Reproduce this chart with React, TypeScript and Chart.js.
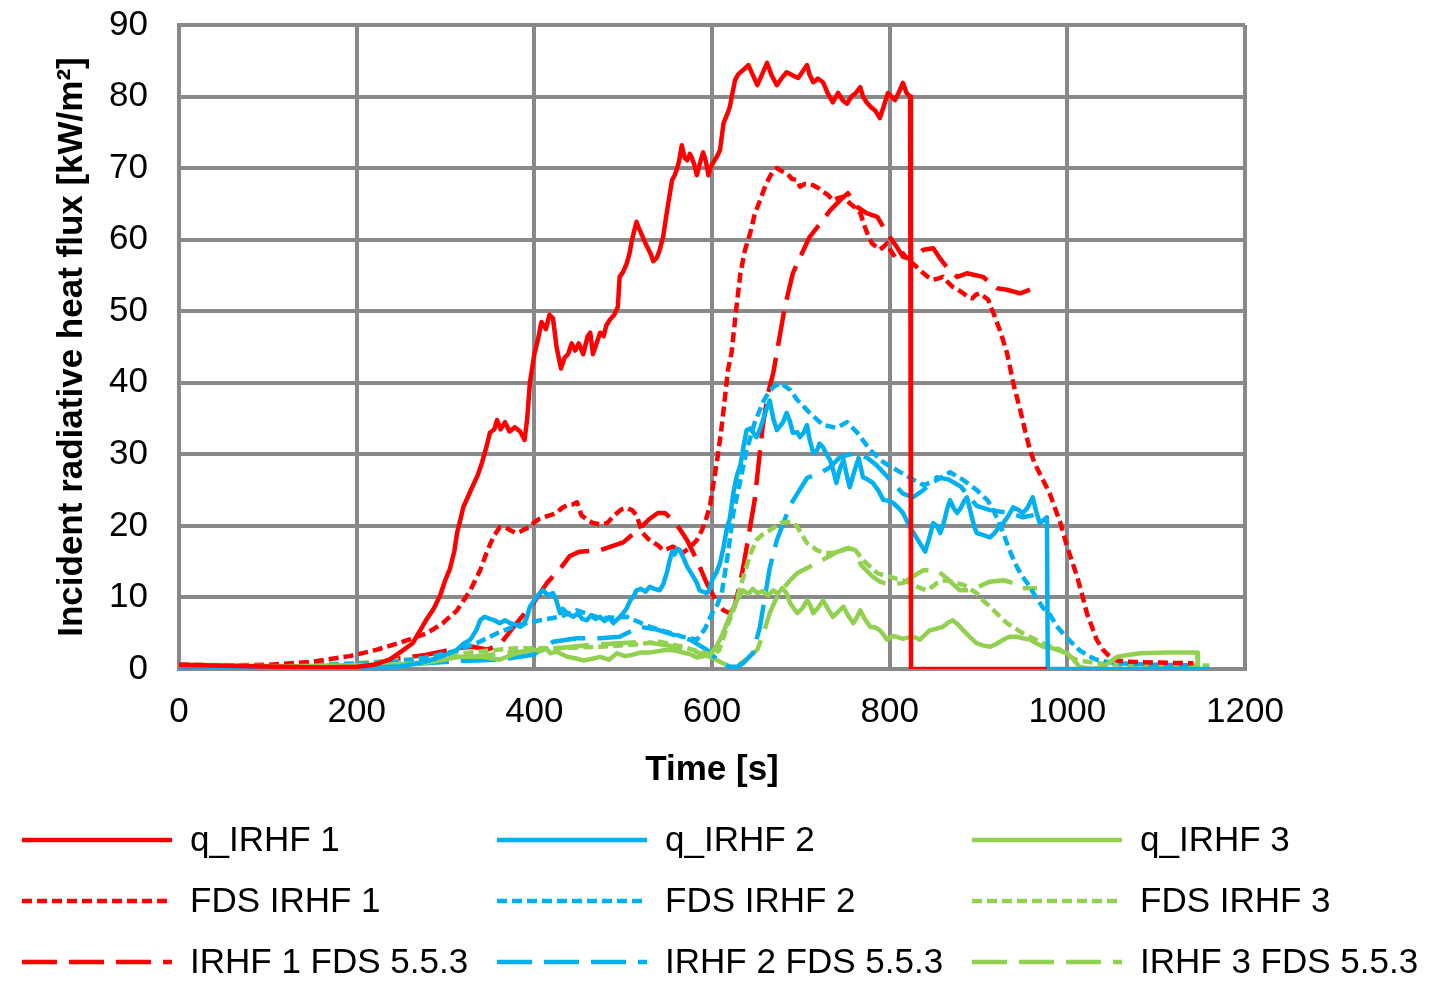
import React, { useEffect, useRef } from 'react';
import { Chart, registerables } from 'chart.js';

Chart.register(...registerables);

const xTickValues = [0, 200, 400, 600, 800, 1000, 1200];
const yTickValues = [0, 10, 20, 30, 40, 50, 60, 70, 80, 90];

const seriesNames = [
  'q_IRHF 1', 'q_IRHF 2', 'q_IRHF 3',
  'FDS IRHF 1', 'FDS IRHF 2', 'FDS IRHF 3',
  'IRHF 1 FDS 5.5.3', 'IRHF 2 FDS 5.5.3', 'IRHF 3 FDS 5.5.3',
];

// q_IRHF 1 (measured)
const q1T = [0,40,80,120,160,200,220,237,252,263,272,279,287,294,300,305,310,313,317,320,325,330,336,341,346,350,355,358,362,367,372,378,384,389,392,395,400,404,408,413,417,421,425,430,434,438,442,446,450,455,460,463,466,470,474,478,481,485,490,494,496,500,504,507,510,513,515,518,522,525,527,531,534,538,541,545,549,552,555,558,560,563,566,569,572,575,577,580,583,586,590,593,596,598,601,605,609,613,617,620,623,626,629,632,636,641,646,651,656,662,667,673,678,684,690,697,702,707,710,714,719,725,730,736,742,747,752,757,762,767,770,774,779,784,789,793,798,802,806,810,815,819,823,824,977];
const q1V = [0.6,0.5,0.4,0.3,0.2,0.3,0.6,1.3,2.6,3.6,5.5,7,8.5,10.3,12.5,14,16.5,19,21,22.6,24,25.4,27,28.8,31,33,33.5,34.8,33.5,34.5,33.2,33.8,33.2,32,35,40,44,46,48.5,47.5,49.5,49,45,42,43.5,44,45.5,44.5,45.5,44,46.5,47,44,45.5,47,46.5,48,48.8,49.5,50.6,54.8,55.5,56.7,58,60,61.5,62.5,61.5,60.4,59.5,59,58,57,57.5,58.5,60.4,63.7,66,68.3,69,69.7,71,73.2,71.5,71.1,72,71.5,70.5,69,70.5,72.2,71,69,70,70.7,71.5,72.5,76.3,77.5,78.5,80.5,82.3,83,83.4,83.8,84.4,83,81.6,83,84.7,83,81.6,82.5,83.4,83,82.6,83.5,84.4,83,82,82.5,82,80.5,79.2,80.5,79.5,79,80,80.5,81.3,80,79.2,78.5,78,77,78.5,80.5,80,79.5,80.5,81.9,80.5,80,0,0];

// q_IRHF 2
const q2T = [0,60,120,180,220,250,270,290,305,313,320,328,335,339,344,350,355,361,367,373,379,384,387,391,395,400,406,410,415,421,425,429,432,437,444,449,454,459,464,469,474,479,484,489,494,500,504,508,512,515,520,525,530,535,541,545,549,552,555,558,561,564,568,572,576,579,583,586,590,594,597,600,605,609,613,617,620,624,628,632,636,639,643,646,650,654,658,662,665,669,673,677,680,684,688,691,696,699,703,707,710,714,718,721,725,729,733,737,740,744,748,751,755,760,765,770,775,781,787,793,799,804,810,815,819,823,828,834,837,840,845,849,853,857,861,865,868,872,876,880,884,887,891,895,898,903,908,913,918,923,928,934,939,944,950,955,961,965,969,973,977,978,1160];
const q2V = [0.4,0.3,0.2,0.1,0.2,0.4,0.8,1.5,2.2,2.7,3.5,4.1,5.5,6.8,7.3,7,6.8,6.4,6.8,6.4,6.2,5.9,6.1,7,8.7,9.6,10.6,11,10.3,10.6,9.5,7.8,8.4,7.8,7.3,7.8,7,6.8,7.5,7,7.3,6.7,7.2,6.4,7,7.8,8.5,9.6,10.2,11,11.2,10.8,11.5,11.2,11,11.8,13.4,15,16.4,16,16.8,16.6,15.5,14.3,13.5,12.9,12,11,10.8,10.6,11,12.4,13.5,14.8,17,19.9,21,24.6,27,28.5,31.5,33.4,33.6,33.1,32.4,33.5,35,36.6,37.5,35,33.4,34,34.5,35.8,34.5,33,33.1,32.4,33,34.1,32,30.2,30.5,31.5,31,30,29.2,27.5,26,28,29.2,27.5,25.4,27.5,29.5,26.8,26.5,26,25,23.6,23.5,23.2,22.5,21.8,20.8,19.8,18.8,17.6,17,16.4,18.5,20.4,20,19,20.5,22.5,23.6,22.5,21.8,22.5,23.5,24,22,20,19,18.8,18.6,18.4,19,19.8,20.4,21.5,22.6,22.3,21.8,22.5,24,22,20.4,20.8,21.2,0,0];

// q_IRHF 3
const q3T = [0,60,120,180,230,275,297,316,342,361,380,399,406,414,418,425,437,446,455,464,474,484,493,502,511,520,530,540,549,558,567,575,583,591,598,604,609,614,618,623,628,635,641,646,651,657,663,669,674,679,684,688,692,696,702,707,711,714,719,725,730,736,742,748,753,759,763,767,772,778,784,789,793,797,803,808,815,823,829,834,840,845,852,860,866,871,877,883,890,898,905,913,920,928,935,943,950,958,965,973,981,988,1000,1007,1014,1029,1040,1048,1056,1070,1082,1110,1146,1147,1149];
const q3V = [0.6,0.5,0.4,0.5,0.6,0.8,1.3,1.7,1.7,1.3,2.2,2.7,2.5,2.8,2.2,2.4,1.7,1.5,1.2,1.4,1.7,1.3,2.2,1.8,2,2.3,2.3,2.5,2.7,2.6,2.3,2.1,1.6,1.8,2,3,4.1,5.5,6.8,8.3,9.6,11,10.5,11.2,10.6,10.9,10.3,11,10.5,11.3,10.6,9.2,8.5,7.8,8.5,9.6,8.8,7.8,8.5,9.6,8.5,7.3,8,8.7,7.5,6.4,7.2,8.2,7,5.9,5.8,5.4,4.8,4.1,4.6,4.5,4.2,4.5,4.4,4.1,4.8,5.4,5.6,5.9,6.5,6.8,6.2,5.4,4.5,3.6,3.3,3.1,3.5,4.1,4.5,4.5,4.3,4.1,3.6,3.1,3,2.7,2.2,1.3,0.3,0,0.3,1,1.7,2,2.2,2.3,2.3,0.3,0.3];

// FDS IRHF 1
const f1T = [0,50,100,150,192,223,249,279,297,313,328,339,347,354,361,367,373,379,384,390,395,400,406,410,418,425,431,437,443,448,453,460,466,474,482,488,493,498,504,510,515,519,522,528,534,540,545,550,556,561,567,575,583,589,594,598,601,604,607,610,613,618,622,627,632,637,643,648,654,660,665,669,673,678,684,690,696,699,705,714,720,725,730,736,742,748,755,761,767,772,776,780,785,789,793,797,801,806,811,815,820,826,832,838,843,849,855,860,866,871,877,883,888,893,897,902,907,911,914,917,925,932,940,947,953,958,963,967,973,980,986,992,1000,1006,1011,1017,1022,1028,1033,1040,1048,1056,1067,1100,1142];
const f1V = [0.6,0.5,0.6,1,1.8,2.7,3.7,5,6.4,8.2,11,13.8,16.5,18.5,19.8,19.8,19.4,19,19.2,19.6,19.8,20.5,21,21.2,21.5,21.8,22.5,22.9,23,23.3,21.5,20.8,20.4,20.2,20.4,21.2,21.8,22.3,22.5,22.2,21.5,20,19,18.2,17.7,17.2,16.6,16.8,17.1,16.7,16.2,17,18,19.5,21.2,23,25.4,27.8,30.2,33,36.2,41.8,44.2,50,55.3,58.5,60.9,63.5,65.5,67.5,68.8,69.6,70,69.6,69.3,68.5,68.3,67.4,67.8,67.6,67.2,66.7,66.3,65.5,65.8,66,65.1,64.5,63.7,61.8,60.5,59.5,59,58.6,59,59.5,58.5,57.6,58,58.1,57.3,56.7,56,55.3,54.8,54.4,54.6,54.8,54,53.4,53,52.5,52,51.8,52.3,52.5,52,51.6,50.5,49.7,47,44.2,39.5,36.2,33,30.6,28.8,27.8,26.3,24.6,22.5,20.5,17,14.8,12.9,10.2,7.8,5.8,4.1,2.7,1.7,1.2,1,0.9,0.8];

// FDS IRHF 2
const f2T = [0,100,200,250,280,313,335,358,380,406,429,448,474,504,530,549,567,583,592,601,606,611,618,624,632,639,648,657,663,669,677,688,696,710,725,740,752,763,778,793,808,823,838,853,868,883,898,910,916,921,927,932,937,943,949,955,961,967,973,981,988,995,1004,1014,1024,1033,1045,1056,1100,1141];
const f2V = [0.5,0.4,0.7,1.1,1.6,2.6,3.6,5,6.1,6.8,7.3,8.2,7.1,7.3,5.9,5.2,4.5,4.1,5.6,8,9,10.6,16.2,21.8,26.4,30.6,34.4,37.2,38.5,39.4,40,39,37.6,35.8,34.1,33.7,34.5,33.1,30.6,28.9,27.8,26.7,25.7,26.4,27.5,26.4,25,23.6,22.5,21,19.3,17.6,16,14.3,13,12,10.8,9.6,8.5,7.5,6,5,3.8,2.6,1.8,1.3,1,0.8,0.6,0.5];

// FDS IRHF 3
const f3T = [0,100,200,275,320,350,380,418,474,511,541,567,586,601,608,617,625,632,638,643,650,657,664,670,677,684,690,696,702,707,714,718,725,733,740,748,753,758,764,770,778,786,793,800,808,815,823,831,837,842,848,853,859,864,870,876,882,887,893,898,905,913,922,932,941,950,961,973,983,992,1000,1010,1022,1037,1060,1100,1160];
const f3V = [0.6,0.5,0.8,1.5,2.2,2.6,2.9,2.9,3.1,3.4,3.8,3.1,2.4,2,2.6,5.9,8.5,11.5,14,16,18,18.8,19.3,19.8,20.4,20.5,20.6,19.9,18.6,17.6,17,16.6,16.3,16.2,16.3,16.6,16.9,17.1,16.2,15.2,14.3,13.4,13.1,12.9,12.6,12.4,12,11.5,11.2,11,11.5,12,12.3,12.4,12.2,12,11.8,11.5,11,10.6,9.6,8.7,7.6,6.4,5.7,5,4.3,3.6,3.1,2.7,1.9,1.3,1,0.8,0.6,0.5,0.5];

// IRHF 1 FDS 5.5.3
const m1T = [0,60,120,160,207,237,279,313,331,347,361,380,399,414,429,440,451,474,500,519,530,539,547,556,564,572,583,594,606,613,620,625,629,634,639,648,657,663,669,673,682,691,696,710,722,733,744,753,763,774,786,797,808,815,827,838,849,856,864,876,887,905,921,932,947,966];
const m1V = [0.4,0.3,0.1,0,0.1,1.3,2,2.9,3.1,2.7,3.4,6.4,9.2,12,14,15.8,16.4,16.6,17.7,19.7,21,21.8,21.8,20.8,19.5,18,15.2,12,9.2,8.2,7.8,8.6,10.6,13.5,17,23.6,33.8,38.5,41.4,44.2,50.6,55.3,56.7,60.4,62.3,64.1,65.5,66.5,64.6,63.7,63.2,60.9,59,57.6,57.2,58.6,58.8,57.5,56.2,54.8,55.3,54.8,53.2,53,52.5,53.4];

// IRHF 2 FDS 5.5.3
const m2T = [0,100,200,250,313,361,399,421,448,474,496,519,538,556,575,594,606,620,628,635,646,654,665,673,688,707,722,733,744,755,765,775,785,795,805,815,826,838,853,866,880,898,913,935,950,962];
const m2V = [0.3,0.2,0.3,0.6,1.1,1.3,2,3.8,4.3,4.3,4.5,5.9,5.5,4.8,4.1,2.7,1.3,0.3,0.3,0.8,2.2,5.9,14.1,18,22.9,26.7,27.4,28.2,29.6,30,30,29.5,28.5,27.2,25.8,24.5,24,25,26.8,26.5,25.5,22.8,22.2,21.8,21.2,21.5];

// IRHF 3 FDS 5.5.3
const m3T = [0,100,200,260,300,350,400,466,522,550,580,600,612,620,630,640,651,658,665,671,677,688,696,710,718,740,750,758,768,780,789,800,815,827,838,853,866,879,894,905,913,928,940,947,966];
const m3V = [0.4,0.3,0.5,0.8,1.2,2,2.6,3.4,3.8,3.3,2.5,1.6,0.8,0.4,0.6,1.5,2.7,5,7.8,9.5,10.8,12.4,13.4,14.3,14.8,16.3,16.8,16.8,14.5,13,12.2,11.8,12,13,13.8,13.8,12.5,11,11,11.8,12.2,12.4,12,11.3,11.3];

const seriesTimes = [q1T, q2T, q3T, f1T, f2T, f3T, m1T, m2T, m3T];
const seriesValues = [q1V, q2V, q3V, f1V, f2V, f3V, m1V, m2V, m3V];

const RED = '#FF0000';
const BLUE = '#00B0F0';
const GREEN = '#92D050';
const seriesColors = [RED, BLUE, GREEN, RED, BLUE, GREEN, RED, BLUE, GREEN];
const SOLID: number[] = [];
const DOT = [10, 5];
const LONG = [35, 12];
const seriesDashes = [SOLID, SOLID, SOLID, DOT, DOT, DOT, LONG, LONG, LONG];

const FONT = '"Liberation Sans", Arial, sans-serif';
const GRID = '#898989';

const legendPlugin = {
  id: 'customLegend',
  afterDraw(chart: any) {
    const ctx = chart.ctx as CanvasRenderingContext2D;
    const colX = [22, 497, 972];
    const rowY = [840, 901, 962];
    ctx.save();
    seriesNames.forEach((name, i) => {
      const c = i % 3;
      const r = Math.floor(i / 3);
      const x0 = colX[c];
      const y = rowY[r];
      ctx.beginPath();
      ctx.setLineDash(seriesDashes[i]);
      ctx.lineDashOffset = 0;
      ctx.lineCap = 'butt';
      ctx.strokeStyle = seriesColors[i];
      ctx.lineWidth = 4.5;
      ctx.moveTo(x0, y);
      ctx.lineTo(x0 + 150, y);
      ctx.stroke();
      ctx.setLineDash([]);
      ctx.fillStyle = '#000';
      ctx.font = `35px ${FONT}`;
      ctx.textBaseline = 'middle';
      ctx.textAlign = 'left';
      ctx.fillText(name, x0 + 168, y + 1);
    });
    ctx.restore();
  },
};

export default function App() {
  const canvasRef = useRef<HTMLCanvasElement | null>(null);

  useEffect(() => {
    document.body.style.margin = '0';
    const canvas = canvasRef.current;
    if (!canvas) return;
    const datasets = seriesNames.map((name, i) => ({
      label: name,
      data: seriesTimes[i].map((t, k) => ({ x: t, y: seriesValues[i][k] })),
      borderColor: seriesColors[i],
      backgroundColor: seriesColors[i],
      borderWidth: 4.5,
      borderDash: seriesDashes[i],
      borderJoinStyle: 'round' as const,
      pointRadius: 0,
      tension: 0,
      fill: false,
    }));
    const chart = new Chart(canvas, {
      type: 'line',
      data: { datasets },
      plugins: [legendPlugin],
      options: {
        animation: false,
        responsive: false,
        devicePixelRatio: 1,
        layout: { padding: { left: 0, right: 188, top: 25, bottom: 0 } },
        plugins: {
          legend: { display: false },
          tooltip: { enabled: false },
        },
        scales: {
          x: {
            type: 'linear',
            min: xTickValues[0],
            max: xTickValues[xTickValues.length - 1],
            afterBuildTicks: (s: any) => { s.ticks = xTickValues.map((v) => ({ value: v })); },
            afterFit: (s: any) => { s.height = 312; s.paddingLeft = 0; s.paddingRight = 0; },
            ticks: { color: '#000', font: { family: FONT, size: 35 }, padding: 22, maxRotation: 0, callback: (v: any) => String(v) },
            grid: { color: GRID, lineWidth: 4, drawTicks: false },
            border: { color: GRID, width: 4 },
            title: {
              display: true,
              text: 'Time [s]',
              color: '#000',
              font: { family: FONT, size: 35, weight: 'bold' },
              padding: { top: 0, bottom: 190 },
            },
          },
          y: {
            type: 'linear',
            min: yTickValues[0],
            max: yTickValues[yTickValues.length - 1],
            afterBuildTicks: (s: any) => { s.ticks = yTickValues.map((v) => ({ value: v })); },
            afterFit: (s: any) => { s.width = 179; s.paddingTop = 0; s.paddingBottom = 0; },
            ticks: { color: '#000', font: { family: FONT, size: 35 }, padding: 31, callback: (v: any) => String(v) },
            grid: { color: GRID, lineWidth: 4, drawTicks: false },
            border: { color: GRID, width: 4 },
            title: {
              display: true,
              text: 'Incident radiative heat flux [kW/m²]',
              color: '#000',
              font: { family: FONT, size: 35, weight: 'bold' },
              padding: { top: 51, bottom: 0 },
            },
          },
        },
      },
    });
    return () => chart.destroy();
  }, []);

  return (
    <div style={{ width: 1433, height: 981, background: '#fff' }}>
      <canvas ref={canvasRef} width={1433} height={981} style={{ width: 1433, height: 981, display: 'block' }} />
    </div>
  );
}
